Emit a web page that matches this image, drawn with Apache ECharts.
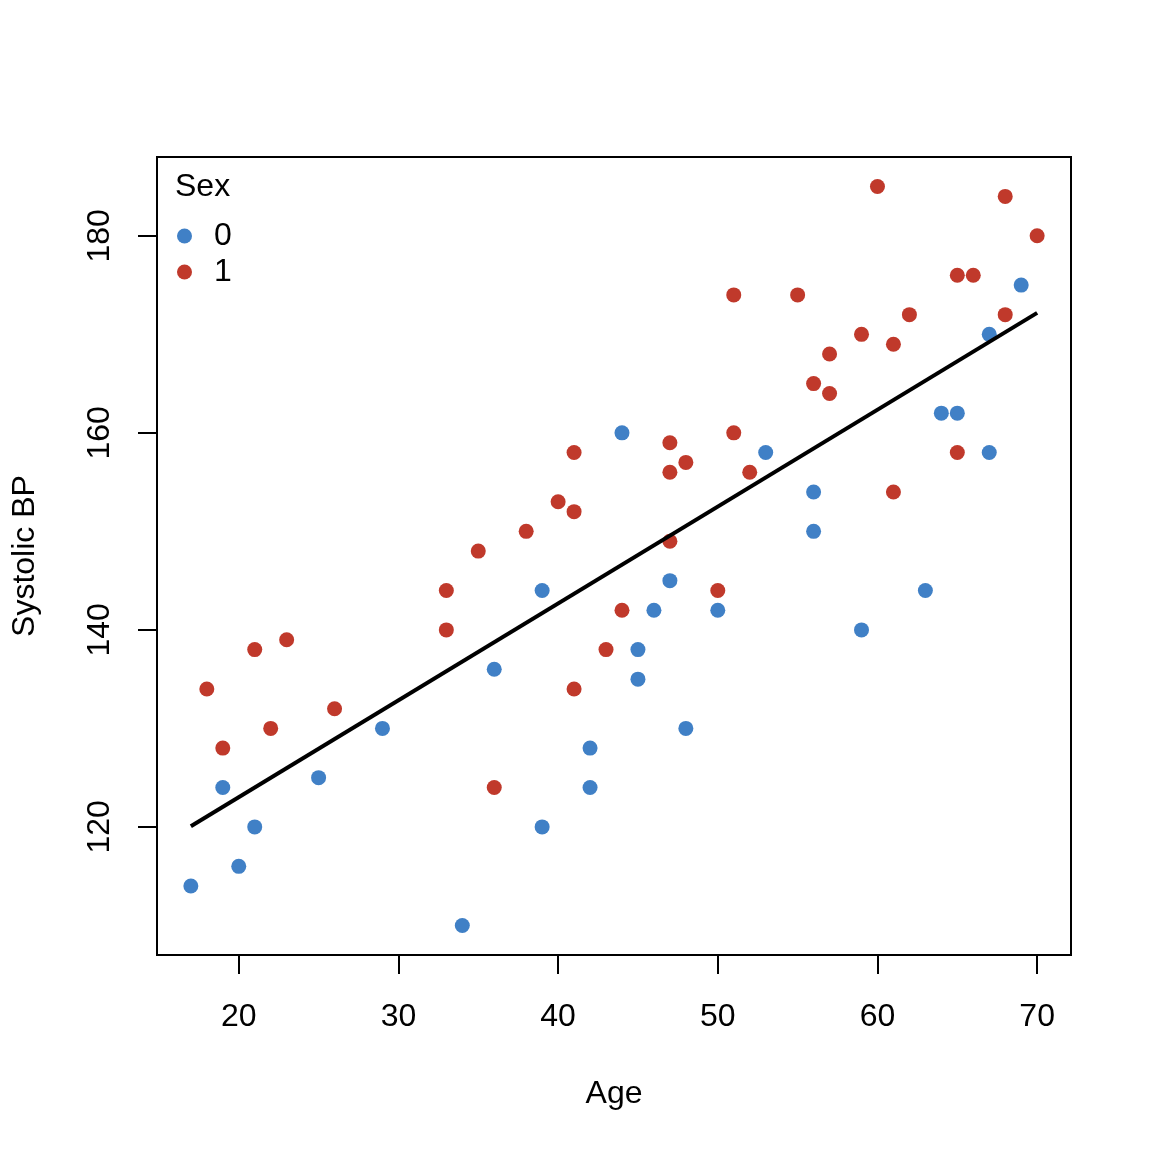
<!DOCTYPE html>
<html>
<head>
<meta charset="utf-8">
<script src="https://cdn.jsdelivr.net/npm/echarts@6/dist/echarts.min.js"></script>
<style>
  html, body { margin: 0; padding: 0; background: #fff; }
  #main { width: 1152px; height: 1152px; }
</style>
</head>
<body>
<div id="main"></div>
<script>
// sex 0
var age0 = [17, 19, 20, 21, 25, 29, 34, 36, 39, 39, 42, 42, 44, 45, 45, 46, 47, 48, 50, 53, 56, 56, 59, 63, 64, 65, 67, 67, 69];
var bp0  = [114, 124, 116, 120, 125, 130, 110, 136, 144, 120, 128, 124, 160, 138, 135, 142, 145, 130, 142, 158, 154, 150, 140, 144, 162, 162, 170, 158, 175];
// sex 1
var age1 = [18, 19, 21, 22, 23, 26, 33, 33, 35, 36, 38, 40, 41, 41, 41, 43, 44, 47, 47, 47, 48, 50, 51, 51, 52, 55, 56, 57, 57, 59, 60, 61, 61, 62, 65, 65, 66, 68, 68, 70];
var bp1  = [134, 128, 138, 130, 139, 132, 144, 140, 148, 124, 150, 153, 158, 152, 134, 138, 142, 159, 156, 149, 157, 144, 174, 160, 156, 174, 165, 168, 164, 170, 185, 169, 154, 172, 176, 158, 176, 184, 172, 180];

var xTicks = [20, 30, 40, 50, 60, 70];
var yTicks = [120, 140, 160, 180];

function pairs(xs, ys) {
    var out = [];
    for (var i = 0; i < xs.length; i++) out.push([xs[i], ys[i]]);
    return out;
}

// least squares fit on all points
var allX = age0.concat(age1), allY = bp0.concat(bp1);
var n = allX.length, mx = 0, my = 0;
for (var i = 0; i < n; i++) { mx += allX[i]; my += allY[i]; }
mx /= n; my /= n;
var sxy = 0, sxx = 0;
for (var i = 0; i < n; i++) {
    sxy += (allX[i] - mx) * (allY[i] - my);
    sxx += (allX[i] - mx) * (allX[i] - mx);
}
var slope = sxy / sxx, icpt = my - slope * mx;
var xlo = Math.min.apply(null, allX), xhi = Math.max.apply(null, allX);
var ylo = Math.min.apply(null, allY), yhi = Math.max.apply(null, allY);
var fitLine = [[xlo, icpt + slope * xlo], [xhi, icpt + slope * xhi]];

// R style 4% padding
var xpad = (xhi - xlo) * 0.04, ypad = (yhi - ylo) * 0.04;

var font = 'Liberation Sans, Arial, Helvetica, sans-serif';
var blue = '#4080C6', red = '#C0392B';

var myChart = echarts.init(document.getElementById('main'));

var option = {
    backgroundColor: '#fff',
    animation: false,
    textStyle: { fontFamily: font },
    title: {
        text: 'Sex',
        left: 170,
        top: 166,
        textStyle: { fontFamily: font, fontSize: 32, fontWeight: 'normal', color: '#000' }
    },
    legend: {
        orient: 'vertical',
        left: 172,
        top: 215,
        icon: 'circle',
        itemWidth: 15,
        itemHeight: 15,
        itemGap: 4,
        data: ['0', '1'],
        textStyle: { fontFamily: font, fontSize: 32, color: '#000', padding: [0, 0, 0, 17] }
    },
    grid: {
        left: 157,
        right: 81,
        top: 157,
        bottom: 197,
        show: true,
        borderColor: '#000',
        borderWidth: 2
    },
    xAxis: {
        type: 'value',
        min: xlo - xpad,
        max: xhi + xpad,
        name: 'Age',
        nameLocation: 'middle',
        nameGap: 123,
        nameTextStyle: { fontFamily: font, fontSize: 32, color: '#000' },
        splitLine: { show: false },
        axisLine: { show: false },
        axisTick: { show: true, length: 19, lineStyle: { color: '#000', width: 2 }, customValues: xTicks },
        axisLabel: { fontFamily: font, fontSize: 32, color: '#000', margin: 46, customValues: xTicks }
    },
    yAxis: {
        type: 'value',
        min: ylo - ypad,
        max: yhi + ypad,
        name: 'Systolic BP',
        nameLocation: 'middle',
        nameGap: 116,
        nameTextStyle: { fontFamily: font, fontSize: 32, color: '#000' },
        splitLine: { show: false },
        axisLine: { show: false },
        axisTick: { show: true, length: 19, lineStyle: { color: '#000', width: 2 }, customValues: yTicks },
        axisLabel: { fontFamily: font, fontSize: 32, color: '#000', margin: 41, rotate: 90, customValues: yTicks }
    },
    series: [
        {
            name: '0',
            type: 'scatter',
            symbol: 'circle',
            symbolSize: 15,
            itemStyle: { color: blue, opacity: 1 },
            data: pairs(age0, bp0)
        },
        {
            name: '1',
            type: 'scatter',
            symbol: 'circle',
            symbolSize: 15,
            itemStyle: { color: red, opacity: 1 },
            data: pairs(age1, bp1)
        },
        {
            name: 'fit',
            type: 'line',
            showSymbol: false,
            lineStyle: { color: '#000', width: 4 },
            data: fitLine,
            z: 3
        }
    ]
};

myChart.setOption(option);
</script>
</body>
</html>
